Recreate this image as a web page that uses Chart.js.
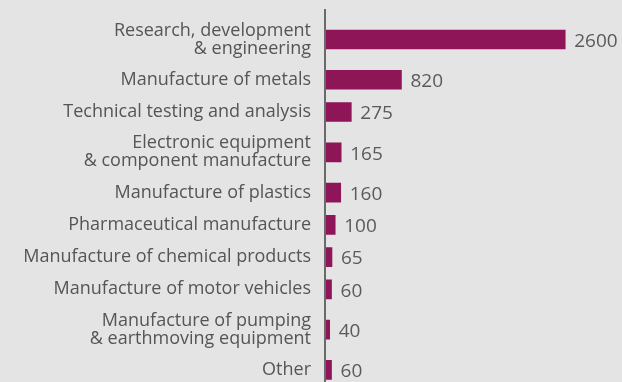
<!DOCTYPE html>
<html>
<head>
<meta charset="utf-8">
<script src="https://cdn.jsdelivr.net/npm/chart.js@4/dist/chart.umd.min.js"></script>
<style>
  html, body { margin: 0; padding: 0; background: #e4e4e4; overflow: hidden; }
  #wrap { width: 622px; height: 392px; position: relative; }
</style>
</head>
<body>
<div id="wrap"><canvas id="chart"></canvas></div>
<script>
// Sectors (multi-line names are split into arrays)
const sectors = [
  ["Research, development", "& engineering"],
  "Manufacture of metals",
  "Technical testing and analysis",
  ["Electronic equipment", "& component manufacture"],
  "Manufacture of plastics",
  "Pharmaceutical manufacture",
  "Manufacture of chemical products",
  "Manufacture of motor vehicles",
  ["Manufacture of pumping", "& earthmoving equipment"],
  "Other"
];
const jobs = [2600, 820, 275, 165, 160, 100, 65, 60, 40, 60];

const BAR_COLOR = "#8e1558";
const TEXT_COLOR = "#555555";
const FONT = "'Open Sans', sans-serif";

// Each row gets 2 units of height, plus one more for a two-line name,
// so rows with wrapped names are spaced a little further apart.
const rowUnits = sectors.map(s => (Array.isArray(s) ? s.length : 1) + 1);
const totalUnits = rowUnits.reduce((a, b) => a + b, 0);
const rowCenters = [];
rowUnits.reduce((acc, u) => { rowCenters.push(acc + u / 2); return acc + u; }, 0);

// Vertical axis rule drawn from near the top of the canvas
const axisRule = {
  id: "axisRule",
  afterDatasetsDraw(chart) {
    const { ctx, chartArea } = chart;
    ctx.save();
    ctx.strokeStyle = "#6a6a6a";
    ctx.lineWidth = 2;
    ctx.beginPath();
    ctx.moveTo(chartArea.left - 1, 9);
    ctx.lineTo(chartArea.left - 1, chart.height);
    ctx.stroke();
    ctx.restore();
  }
};

// Value printed to the right of each bar
const valueLabels = {
  id: "valueLabels",
  afterDatasetsDraw(chart) {
    const { ctx } = chart;
    const meta = chart.getDatasetMeta(0);
    ctx.save();
    ctx.fillStyle = "#5a5a5a";
    ctx.font = "19px " + FONT;
    ctx.textAlign = "left";
    ctx.textBaseline = "middle";
    meta.data.forEach((bar, i) => {
      ctx.fillText(String(jobs[i]), bar.x + 9, bar.y + 2);
    });
    ctx.restore();
  }
};

new Chart(document.getElementById("chart"), {
  type: "bar",
  data: {
    datasets: [{
      data: jobs.map((v, i) => ({ x: v, y: rowCenters[i] })),
      backgroundColor: BAR_COLOR,
      borderWidth: 0,
      barThickness: 19
    }]
  },
  options: {
    indexAxis: "y",
    responsive: true,
    maintainAspectRatio: false,
    animation: false,
    layout: { padding: { top: 15.3, bottom: 6, left: 0, right: 0 } },
    plugins: {
      legend: { display: false },
      tooltip: { enabled: false }
    },
    scales: {
      x: {
        type: "linear",
        display: false,
        min: 0,
        max: 3217
      },
      y: {
        type: "linear",
        reverse: true,
        offset: false,
        min: 0,
        max: totalUnits,
        afterBuildTicks(scale) {
          scale.ticks = rowCenters.map(v => ({ value: v }));
        },
        afterFit(scale) {
          scale.width = 326;
          scale.paddingTop = 0;
          scale.paddingBottom = 0;
        },
        grid: { display: false, drawTicks: false, offset: false },
        border: { display: false },
        ticks: {
          autoSkip: false,
          color: TEXT_COLOR,
          font: { family: FONT, size: 18, lineHeight: 1.0 },
          padding: 15,
          callback: (value, index) => sectors[index]
        }
      }
    }
  },
  plugins: [axisRule, valueLabels]
});
</script>
</body>
</html>
